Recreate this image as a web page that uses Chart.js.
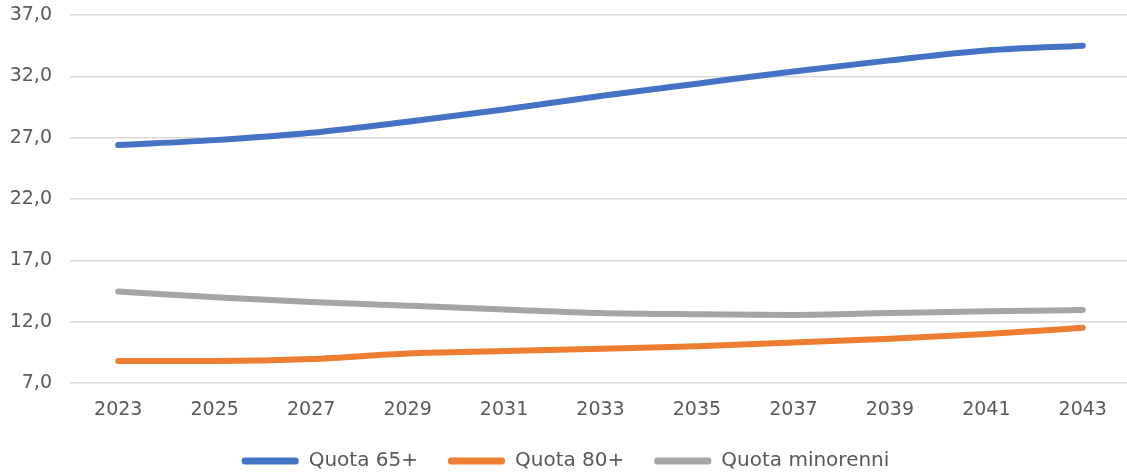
<!DOCTYPE html>
<html>
<head>
<meta charset="utf-8">
<script src="https://cdn.jsdelivr.net/npm/chart.js@4"></script>
<style>
  html, body { margin: 0; padding: 0; background: #fff; overflow: hidden; }
  #wrap { width: 1127px; height: 472px; overflow: hidden; }
</style>
</head>
<body>
<div id="wrap"><canvas id="quoteChart" width="1131" height="472"></canvas></div>
<script>
// Anni (categorie asse x)
var anni = ["2023", "2025", "2027", "2029", "2031", "2033", "2035", "2037", "2039", "2041", "2043"];

// Serie
var quota65 = [26.4, 26.8, 27.4, 28.3, 29.3, 30.4, 31.4, 32.4, 33.3, 34.1, 34.5];
var quota80 = [8.8, 8.8, 8.95, 9.4, 9.6, 9.8, 10.0, 10.3, 10.6, 11.0, 11.5];
var quotaMinorenni = [14.45, 14.0, 13.6, 13.3, 13.0, 12.7, 12.6, 12.55, 12.7, 12.85, 12.95];

// Tick asse y
var yMin = 7, yMax = 37, yStep = 5;

var grigioTesto = "#595959";
var fontBase = "'DejaVu Sans', 'Liberation Sans', sans-serif";

function serie(label, data, colore) {
    return {
        label: label,
        data: data,
        borderColor: colore,
        backgroundColor: colore,
        borderWidth: 6,
        borderCapStyle: "round",
        pointRadius: 0,
        pointHoverRadius: 0,
        cubicInterpolationMode: "monotone",
        fill: false
    };
}

var ctx = document.getElementById("quoteChart").getContext("2d");
var chart = new Chart(ctx, {
    type: "line",
    data: {
        labels: anni,
        datasets: [
            serie("Quota 65+", quota65, "#4472C4"),
            serie("Quota 80+", quota80, "#ED7D31"),
            serie("Quota minorenni", quotaMinorenni, "#A5A5A5")
        ]
    },
    options: {
        responsive: false,
        animation: false,
        layout: { autoPadding: false, padding: { left: 0, right: 0, top: 0, bottom: -9 } },
        plugins: {
            tooltip: { enabled: false },
            legend: {
                position: "bottom",
                labels: {
                    color: grigioTesto,
                    font: { family: fontBase, size: 20 },
                    boxWidth: 57,
                    boxHeight: 7,
                    padding: 30,
                    generateLabels: function (c) {
                        var items = Chart.defaults.plugins.legend.labels.generateLabels(c);
                        items.forEach(function (it) {
                            it.lineWidth = 0;
                            it.borderRadius = 3;
                        });
                        return items;
                    }
                }
            }
        },
        scales: {
            x: {
                offset: true,
                afterFit: function (scale) {
                    scale.height = 38;
                    scale.paddingLeft = 0;
                    scale.paddingRight = 0;
                },
                grid: { display: false, drawTicks: false },
                border: { display: false },
                ticks: {
                    color: grigioTesto,
                    font: { family: fontBase, size: 19 },
                    padding: 16,
                    maxRotation: 0
                }
            },
            y: {
                min: yMin,
                max: yMax,
                afterFit: function (scale) {
                    scale.width = 70;
                    scale.paddingTop = 15;
                },
                grid: { color: "#D9D9D9", lineWidth: 1.5, drawTicks: false },
                border: { display: false },
                ticks: {
                    stepSize: yStep,
                    color: grigioTesto,
                    font: { family: fontBase, size: 19 },
                    padding: 18,
                    callback: function (v) { return v.toFixed(1).replace(".", ","); }
                }
            }
        }
    }
});
</script>
</body>
</html>
